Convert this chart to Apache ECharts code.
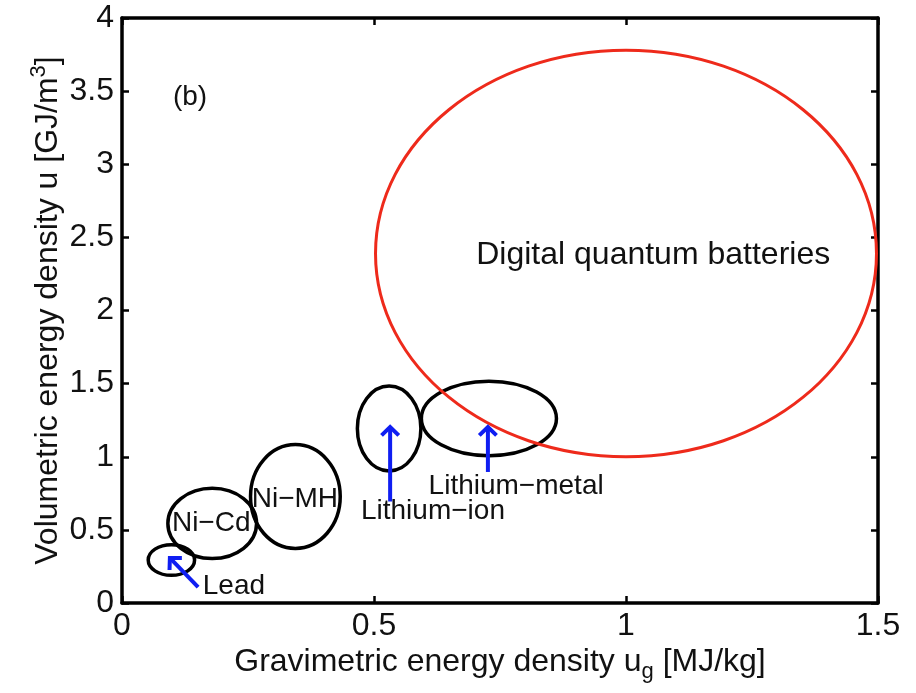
<!DOCTYPE html>
<html>
<head>
<meta charset="utf-8">
<script src="https://cdn.jsdelivr.net/npm/echarts@6/dist/echarts.min.js"></script>
<style>
  html, body { margin: 0; padding: 0; background: #fff; }
  #main { width: 916px; height: 693px; }
</style>
</head>
<body>
<div id="main"></div>
<script>
// ellipses: center x, center y, half-width, half-height (data units)
var ellipseNames = ["Lead", "Ni-Cd", "Ni-MH", "Lithium-ion", "Lithium-metal", "Digital quantum"]
var ellipseCx = [0.098, 0.179, 0.344, 0.530, 0.728, 1.0]
var ellipseCy = [0.294, 0.544, 0.728, 1.193, 1.262, 2.39]
var ellipseRx = [0.046, 0.088, 0.089, 0.063, 0.134, 0.497]
var ellipseRy = [0.105, 0.240, 0.355, 0.290, 0.255, 1.39]
var ellipseColors = ["#000", "#000", "#000", "#000", "#000", "#ee2a1b"]

// arrows: tail -> head
var arrowTailX = [0.151, 0.532, 0.726]
var arrowTailY = [0.109, 0.694, 0.896]
var arrowHeadX = [0.095, 0.532, 0.726]
var arrowHeadY = [0.308, 1.203, 1.203]

// text labels
var labelText = ["(b)", "Digital quantum batteries", "Ni\u2212Cd", "Ni\u2212MH", "Lead", "Lithium\u2212ion", "Lithium\u2212metal"]
var labelX = [0.135, 1.054, 0.177, 0.343, 0.222, 0.617, 0.782]
var labelY = [3.46, 2.38, 0.547, 0.711, 0.116, 0.625, 0.795]
var labelSize = [28, 32, 28, 28, 28, 28, 28]

var xTicks = { min: 0, max: 1.5, interval: 0.5 }
var yTicks = { min: 0, max: 4, interval: 0.5 }

var chart = echarts.init(document.getElementById("main"))
var FONT = "Liberation Sans, Arial, Helvetica, sans-serif"

var ellipseData = ellipseCx.map(function (x, i) {
  return [x, ellipseCy[i], ellipseRx[i], ellipseRy[i], i]
})
var arrowData = arrowTailX.map(function (x, i) {
  return [x, arrowTailY[i], arrowHeadX[i], arrowHeadY[i]]
})
var labelData = labelX.map(function (x, i) {
  return [x, labelY[i], i]
})

var tickStyle = { inside: true, length: 7, lineStyle: { color: "#000", width: 2.5 } }
var lineStyle = { show: true, onZero: false, lineStyle: { color: "#000", width: 3.5 } }

var option = {
  animation: false,
  backgroundColor: "#fff",
  grid: { left: 122, right: 38, top: 18, bottom: 90, show: false, outerBoundsMode: "none", containLabel: false },
  xAxis: [
    {
      type: "value", min: xTicks.min, max: xTicks.max, interval: xTicks.interval,
      position: "bottom",
      axisLine: lineStyle, axisTick: tickStyle, splitLine: { show: false },
      axisLabel: { color: "#111", fontSize: 32, fontFamily: FONT, margin: 7 },
      name: "Gravimetric energy density u{sub|g} [MJ/kg]",
      nameLocation: "middle", nameGap: 38, nameMoveOverlap: false,
      nameTextStyle: {
        color: "#111", fontSize: 32, fontFamily: FONT,
        rich: { sub: { fontSize: 22, fontFamily: FONT, color: "#111", padding: [20, 0, 0, 0] } }
      }
    },
    {
      type: "value", min: xTicks.min, max: xTicks.max, interval: xTicks.interval,
      position: "top",
      axisLine: lineStyle, axisTick: tickStyle, axisLabel: { show: false }, splitLine: { show: false }
    }
  ],
  yAxis: [
    {
      type: "value", min: yTicks.min, max: yTicks.max, interval: yTicks.interval,
      position: "left",
      axisLine: lineStyle, axisTick: tickStyle, splitLine: { show: false },
      axisLabel: { color: "#111", fontSize: 32, fontFamily: FONT, margin: 8 },
      name: "Volumetric energy density u [GJ/m{sup|3}]",
      nameLocation: "middle", nameGap: 54, nameMoveOverlap: false,
      nameTextStyle: {
        color: "#111", fontSize: 32, fontFamily: FONT,
        rich: { sup: { fontSize: 22, fontFamily: FONT, color: "#111", padding: [0, 0, 18, 0] } }
      }
    },
    {
      type: "value", min: yTicks.min, max: yTicks.max, interval: yTicks.interval,
      position: "right",
      axisLine: lineStyle, axisTick: tickStyle, axisLabel: { show: false }, splitLine: { show: false }
    }
  ],
  series: [
    {
      type: "custom",
      data: ellipseData,
      clip: false,
      renderItem: function (params, api) {
        var c = api.coord([api.value(0), api.value(1)])
        var s = api.size([api.value(2), api.value(3)])
        var idx = api.value(4)
        return {
          type: "ellipse",
          shape: { cx: c[0], cy: c[1], rx: s[0], ry: s[1] },
          style: { fill: null, stroke: ellipseColors[idx], lineWidth: idx === 5 ? 3 : 3.5 }
        }
      }
    },
    {
      type: "custom",
      data: arrowData,
      renderItem: function (params, api) {
        var t = api.coord([api.value(0), api.value(1)])
        var h = api.coord([api.value(2), api.value(3)])
        var ang = Math.atan2(t[1] - h[1], t[0] - h[0])
        var len = 12, spread = 0.8
        var p1 = [h[0] + len * Math.cos(ang + spread), h[1] + len * Math.sin(ang + spread)]
        var p2 = [h[0] + len * Math.cos(ang - spread), h[1] + len * Math.sin(ang - spread)]
        var st = { stroke: "#0f1ef2", lineWidth: 4, fill: null, lineCap: "butt" }
        return {
          type: "group",
          children: [
            { type: "line", shape: { x1: t[0], y1: t[1], x2: h[0], y2: h[1] }, style: st },
            { type: "polyline", shape: { points: [p1, h, p2] }, style: st }
          ]
        }
      }
    },
    {
      type: "custom",
      data: labelData,
      renderItem: function (params, api) {
        var p = api.coord([api.value(0), api.value(1)])
        var i = api.value(2)
        return {
          type: "text",
          x: p[0], y: p[1],
          style: {
            text: labelText[i], fill: "#111", fontSize: labelSize[i], fontFamily: FONT,
            align: "center", verticalAlign: "middle"
          }
        }
      }
    }
  ]
}

chart.setOption(option)
window.addEventListener("resize", function () { chart.resize() })
</script>
</body>
</html>
